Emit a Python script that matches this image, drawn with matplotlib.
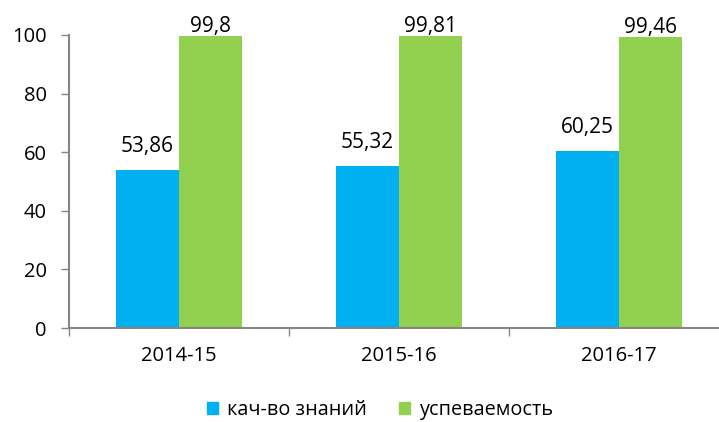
import numpy as np
import matplotlib.pyplot as plt
from matplotlib.patches import Patch

plt.rcParams['font.family'] = ['Open Sans', 'DejaVu Sans']

# данные
годы = ['2014-15', '2015-16', '2016-17']
качество = [53.86, 55.32, 60.25]
успеваемость = [99.8, 99.81, 99.46]
подписи_кач = ['53,86', '55,32', '60,25']
подписи_усп = ['99,8', '99,81', '99,46']

СИНИЙ = '#00B0F0'
ЗЕЛЕНЫЙ = '#92D050'
СЕРЫЙ = '#868686'

fig = plt.figure(figsize=(7.19, 4.22), dpi=100)
ax = fig.add_axes([69 / 719, 94 / 422, 660 / 719, 293 / 422])

x = np.arange(len(годы))
w = 0.287
b1 = ax.bar(x - w / 2, качество, w, color=СИНИЙ, label='кач-во знаний')
b2 = ax.bar(x + w / 2, успеваемость, w, color=ЗЕЛЕНЫЙ, label='успеваемость')

# подписи значений
for rect, t in zip(b1, подписи_кач):
    ax.annotate(t, (rect.get_x() + rect.get_width() / 2, rect.get_height()),
                xytext=(0, 13), textcoords='offset points',
                ha='center', va='baseline', fontsize=15)
for rect, t in zip(b2, подписи_усп):
    ax.annotate(t, (rect.get_x() + rect.get_width() / 2, rect.get_height()),
                xytext=(0, 2.5), textcoords='offset points',
                ha='center', va='baseline', fontsize=15)

ax.set_xlim(-0.5, 2.5)
ax.set_ylim(0, 100)
ax.set_yticks(range(0, 101, 20))
ax.tick_params(axis='y', labelsize=14.5, length=6, width=1, color=СЕРЫЙ, pad=10)

ax.set_xticks(x)
ax.set_xticklabels(годы, fontsize=14.5)
ax.set_xticks([-0.5, 0.5, 1.5, 2.5], minor=True)
ax.tick_params(axis='x', which='major', length=0, pad=13)
ax.tick_params(axis='x', which='minor', length=6, width=1, color=СЕРЫЙ)

for s in ['top', 'right']:
    ax.spines[s].set_visible(False)
for s in ['left', 'bottom']:
    ax.spines[s].set_color(СЕРЫЙ)
    ax.spines[s].set_linewidth(1.5)

handles = [Patch(color=СИНИЙ, label='кач-во знаний'),
           Patch(color=ЗЕЛЕНЫЙ, label='успеваемость')]
fig.legend(handles=handles, loc='center', bbox_to_anchor=(380 / 719, 1 - 410 / 422),
           ncol=2, frameon=False, fontsize=14.3, handlelength=0.55, handleheight=0.55,
           handletextpad=0.45, columnspacing=1.6, borderpad=0)

fig.savefig('out.png', dpi=100)
